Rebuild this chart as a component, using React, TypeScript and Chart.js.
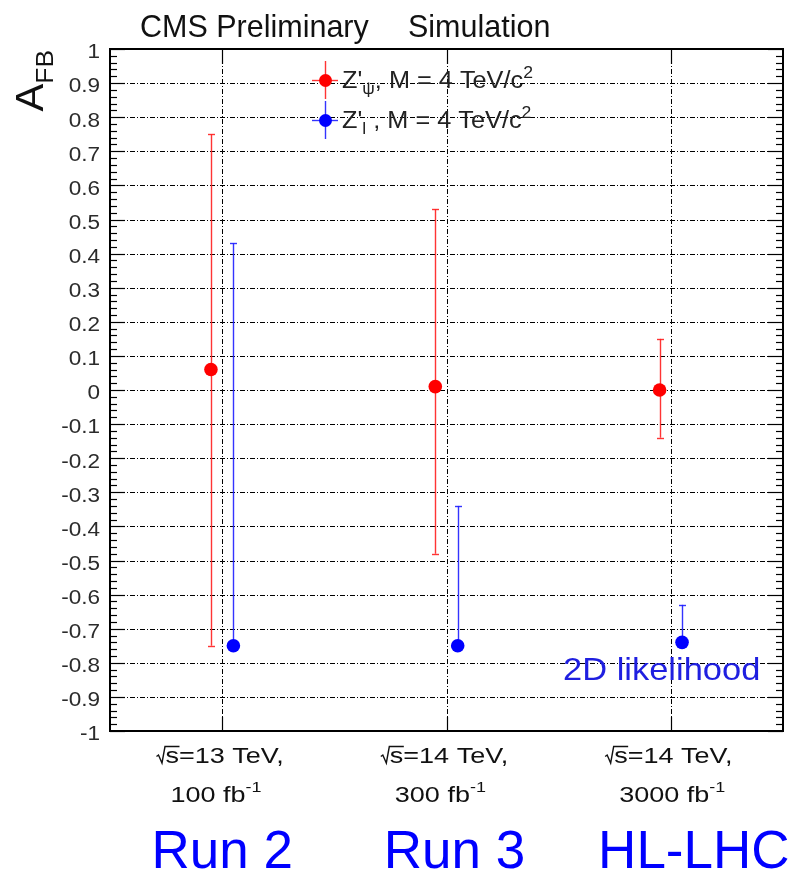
import React, { useEffect, useRef } from "react";
import { Chart, registerables } from "chart.js";

Chart.register(...registerables);

// ---------- data ----------
const categories = [1, 2, 3];
const energyLabels = ["=13 TeV,", "=14 TeV,", "=14 TeV,"];
const lumiLabels = ["100 fb", "300 fb", "3000 fb"];
const runLabels = ["Run 2", "Run 3", "HL-LHC"];

const redValues = [0.06, 0.01, 0.0];
const redUpper = [0.75, 0.53, 0.15];
const redLower = [-0.75, -0.48, -0.14];

const blueValues = [-0.75, -0.75, -0.74];
const blueUpper = [0.43, -0.34, -0.63];
const blueLower = [-0.75, -0.75, -0.74];

const Y_MIN = -1;
const Y_MAX = 1;
const Y_STEP = 0.1;
const Y_MINOR = 0.02;

const RED = "#ff0000";
const BLUE = "#0000ff";
const RED_BAR = "rgba(255,30,30,0.9)";
const BLUE_BAR = "rgba(30,30,255,0.9)";
const FONT = '"Liberation Sans", Arial, Helvetica, sans-serif';

type Run = { t: string; size: number; dy?: number };

function runsWidth(ctx: CanvasRenderingContext2D, runs: Run[], sx: number) {
  let w = 0;
  for (const r of runs) {
    ctx.font = `${r.size}px ${FONT}`;
    w += ctx.measureText(r.t).width * sx;
  }
  return w;
}

function drawRuns(
  ctx: CanvasRenderingContext2D,
  runs: Run[],
  x: number,
  y: number,
  color: string,
  sx: number
) {
  let cx = x;
  for (const r of runs) {
    ctx.save();
    ctx.font = `${r.size}px ${FONT}`;
    ctx.fillStyle = color;
    ctx.textAlign = "left";
    ctx.textBaseline = "alphabetic";
    ctx.translate(cx, y + (r.dy || 0));
    ctx.scale(sx, 1);
    ctx.fillText(r.t, 0, 0);
    ctx.restore();
    ctx.font = `${r.size}px ${FONT}`;
    cx += ctx.measureText(r.t).width * sx;
  }
  return cx - x;
}

function hline(ctx: CanvasRenderingContext2D, x1: number, x2: number, y: number) {
  ctx.beginPath();
  ctx.moveTo(x1, y);
  ctx.lineTo(x2, y);
  ctx.stroke();
}
function vline(ctx: CanvasRenderingContext2D, x: number, y1: number, y2: number) {
  ctx.beginPath();
  ctx.moveTo(x, y1);
  ctx.lineTo(x, y2);
  ctx.stroke();
}

const rootPlugin = {
  id: "rootStyle",
  beforeDatasetsDraw(chart: any) {
    const ctx: CanvasRenderingContext2D = chart.ctx;
    const { left, right, top, bottom } = chart.chartArea;
    const xs = chart.scales.x;
    const ys = chart.scales.y;

    // grid
    ctx.save();
    ctx.strokeStyle = "#000";
    ctx.lineWidth = 1;
    ctx.setLineDash([5, 2, 1, 2]);
    for (let k = 1; k < Math.round((Y_MAX - Y_MIN) / Y_STEP); k++) {
      const v = Y_MIN + k * Y_STEP;
      const py = Math.round(ys.getPixelForValue(v)) + 0.5;
      hline(ctx, left, right, py);
    }
    for (const c of categories) {
      const px = Math.round(xs.getPixelForValue(c)) + 0.5;
      vline(ctx, px, top, bottom);
    }
    ctx.restore();

    // error bars
    const drawBars = (vals: number[], hi: number[], lo: number[], off: number, color: string) => {
      ctx.save();
      ctx.strokeStyle = color;
      ctx.lineWidth = 1.4;
      categories.forEach((c, i) => {
        const px = Math.round(xs.getPixelForValue(c + off)) + 0.5;
        const ph = ys.getPixelForValue(hi[i]);
        const pl = ys.getPixelForValue(lo[i]);
        vline(ctx, px, ph, pl);
        if (hi[i] !== vals[i]) hline(ctx, px - 3.5, px + 3.5, Math.round(ph) + 0.5);
        if (lo[i] !== vals[i]) hline(ctx, px - 3.5, px + 3.5, Math.round(pl) + 0.5);
      });
      ctx.restore();
    };
    drawBars(redValues, redUpper, redLower, -0.05, RED_BAR);
    drawBars(blueValues, blueUpper, blueLower, 0.05, BLUE_BAR);
  },
  afterDatasetsDraw(chart: any) {
    const ctx: CanvasRenderingContext2D = chart.ctx;
    const { left, right, top, bottom } = chart.chartArea;
    const xs = chart.scales.x;
    const ys = chart.scales.y;

    ctx.save();
    ctx.setLineDash([]);
    ctx.strokeStyle = "#000";

    // ticks
    ctx.lineWidth = 1.2;
    const nMinor = Math.round((Y_MAX - Y_MIN) / Y_MINOR);
    for (let k = 0; k <= nMinor; k++) {
      const v = Y_MIN + k * Y_MINOR;
      const py = Math.round(ys.getPixelForValue(v)) + 0.5;
      const major = k % Math.round(Y_STEP / Y_MINOR) === 0;
      const len = major ? 15 : 7;
      hline(ctx, left, left + len, py);
      hline(ctx, right - len, right, py);
    }
    for (const c of categories) {
      const px = Math.round(xs.getPixelForValue(c)) + 0.5;
      vline(ctx, px, bottom, bottom - 14);
      vline(ctx, px, top, top + 15);
    }

    // frame
    ctx.lineWidth = 2;
    ctx.strokeRect(left, top, right - left, bottom - top);
    ctx.restore();

    // y tick labels
    const nMaj = Math.round((Y_MAX - Y_MIN) / Y_STEP);
    for (let k = 0; k <= nMaj; k++) {
      const v = Y_MIN + k * Y_STEP;
      let s = v.toFixed(1);
      if (Math.abs(v) < 1e-9) s = "0";
      else if (Math.abs(Math.abs(v) - 1) < 1e-9) s = v > 0 ? "1" : "-1";
      const py = ys.getPixelForValue(v);
      const runs = [{ t: s, size: 20.5 }];
      const w = runsWidth(ctx, runs, 1.1);
      drawRuns(ctx, runs, 100 - w, py + 9.3, "#2b2b2b", 1.1);
    }

    // y axis title A_FB (rotated)
    ctx.save();
    ctx.translate(43, 50);
    ctx.rotate(-Math.PI / 2);
    const titleRuns: Run[] = [
      { t: "A", size: 38 },
      { t: "FB", size: 24, dy: 10 },
    ];
    const tw = runsWidth(ctx, titleRuns, 1.1);
    drawRuns(ctx, titleRuns, -tw, 0, "#111", 1.1);
    ctx.restore();

    // top title
    drawRuns(ctx, [{ t: "CMS Preliminary", size: 30.5 }], 140, 37, "#111", 1);
    drawRuns(ctx, [{ t: "Simulation", size: 30.5 }], 408, 37, "#111", 1);

    // legend
    const legendEntry = (cy: number, color: string, barColor: string, runs: Run[]) => {
      const cx = 325;
      ctx.save();
      ctx.strokeStyle = barColor;
      ctx.lineWidth = 1.4;
      vline(ctx, cx + 0.5, cy - 19, cy + 19);
      hline(ctx, cx - 13, cx + 13, cy + 0.5);
      ctx.fillStyle = color;
      ctx.beginPath();
      ctx.arc(cx + 0.5, cy + 0.5, 6.5, 0, Math.PI * 2);
      ctx.fill();
      ctx.restore();
      drawRuns(ctx, runs, 342, cy + 8, "#222", 1.1);
    };
    legendEntry(80, RED, RED_BAR, [
      { t: "Z'", size: 23 },
      { t: "\u03c8", size: 16, dy: 6 },
      { t: ", M = 4 TeV/c", size: 23 },
      { t: "2", size: 16, dy: -10 },
    ]);
    legendEntry(120, BLUE, BLUE_BAR, [
      { t: "Z'", size: 23 },
      { t: "l", size: 16, dy: 6 },
      { t: " , M = 4 TeV/c", size: 23 },
      { t: "2", size: 16, dy: -10 },
    ]);

    // 2D likelihood
    drawRuns(ctx, [{ t: "2D likelihood", size: 30.5 }], 563, 680, "#1f1fe0", 1.13);

    // x labels
    const SX = 1.2;
    const FS = 22.5;
    categories.forEach((c, i) => {
      const cx = xs.getPixelForValue(c);
      const base1 = 763;
      const rootW = 9;
      ctx.font = `${FS}px ${FONT}`;
      const sW = ctx.measureText("s").width * SX;
      const restRuns: Run[] = [{ t: energyLabels[i], size: FS }];
      const total = rootW + sW + runsWidth(ctx, restRuns, SX);
      const x0 = cx - total / 2 - 2;
      // radical sign
      ctx.save();
      ctx.strokeStyle = "#111";
      ctx.lineWidth = 1.4;
      ctx.beginPath();
      ctx.moveTo(x0, base1 - 6.5);
      ctx.lineTo(x0 + 2, base1 - 8);
      ctx.lineTo(x0 + 5.5, base1);
      ctx.lineTo(x0 + 8.5, base1 - 16.5);
      ctx.lineTo(x0 + rootW + sW + 0.5, base1 - 16.5);
      ctx.stroke();
      ctx.restore();
      drawRuns(ctx, [{ t: "s", size: FS }], x0 + rootW, base1, "#111", SX);
      drawRuns(ctx, restRuns, x0 + rootW + sW, base1, "#111", SX);
      // second line
      drawRuns(
        ctx,
        [
          { t: lumiLabels[i], size: FS },
          { t: "-1", size: 15, dy: -10 },
        ],
        x0 + 14,
        801.5,
        "#111",
        SX
      );
      // run label
      ctx.font = `53px ${FONT}`;
      const rw = ctx.measureText(runLabels[i]).width;
      const runCenters = [cx, cx + 8, cx + 23];
      drawRuns(ctx, [{ t: runLabels[i], size: 53 }], runCenters[i] - rw / 2, 868, BLUE, 1);
    });
  },
};

export default function App() {
  const ref = useRef<HTMLCanvasElement | null>(null);
  useEffect(() => {
    if (!ref.current) return;
    const chart = new Chart(ref.current, {
      type: "scatter",
      data: {
        datasets: [
          {
            label: "red",
            data: categories.map((c, i) => ({ x: c - 0.05, y: redValues[i] })),
            backgroundColor: RED,
            borderWidth: 0,
            pointRadius: 6.8,
            pointStyle: "circle",
          },
          {
            label: "blue",
            data: categories.map((c, i) => ({ x: c + 0.05, y: blueValues[i] })),
            backgroundColor: BLUE,
            borderWidth: 0,
            pointRadius: 6.8,
            pointStyle: "circle",
          },
        ],
      },
      options: {
        animation: false,
        responsive: false,
        events: [],
        layout: { padding: { left: 110, right: 7, top: 49, bottom: 140 } },
        plugins: { legend: { display: false }, tooltip: { enabled: false }, title: { display: false } },
        scales: {
          x: { type: "linear", min: 0.5, max: 3.5, display: false },
          y: { type: "linear", min: Y_MIN, max: Y_MAX, display: false },
        },
      },
      plugins: [rootPlugin],
    });
    return () => chart.destroy();
  }, []);
  return (
    <div style={{ position: "absolute", left: 0, top: 0, width: 790, height: 871, background: "#fff" }}>
      <canvas ref={ref} width={790} height={871} style={{ display: "block" }} />
    </div>
  );
}
